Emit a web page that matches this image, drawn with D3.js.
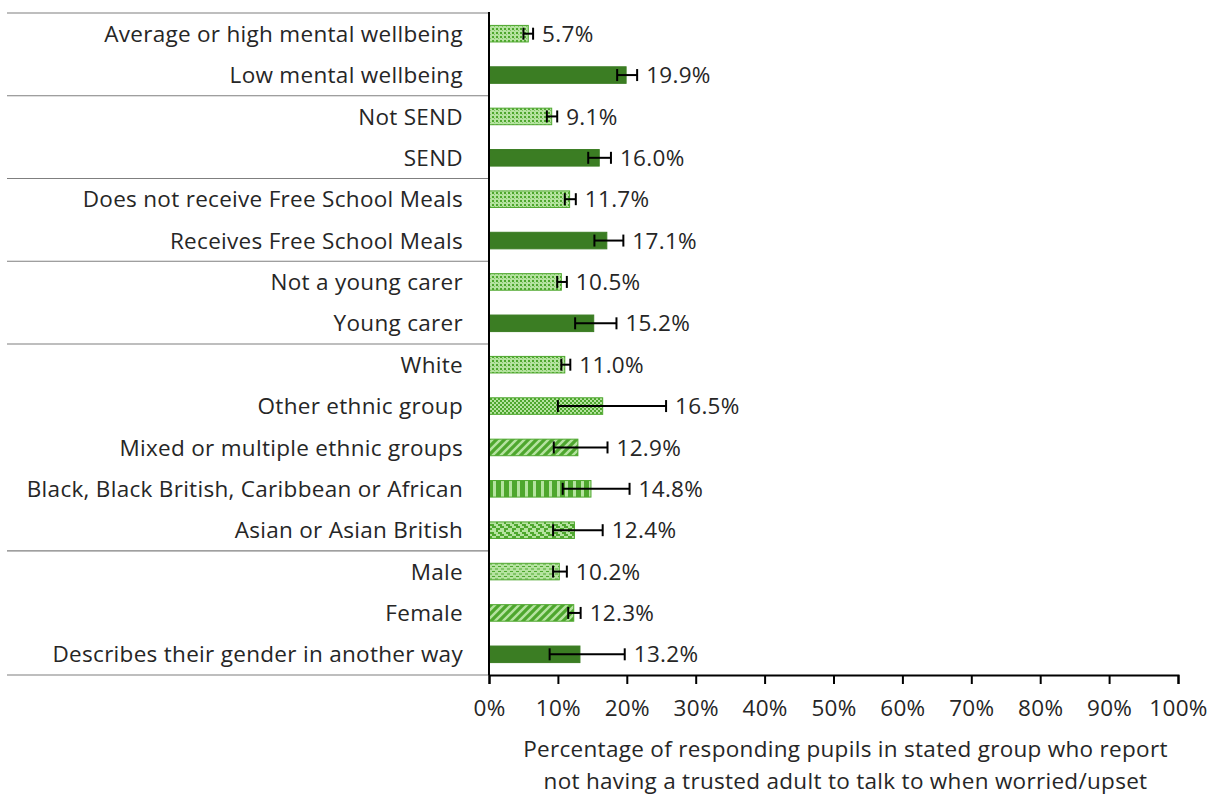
<!DOCTYPE html>
<html>
<head>
<meta charset="utf-8">
<script src="https://cdn.jsdelivr.net/npm/d3@7"></script>
<style>
  html, body { margin: 0; padding: 0; background: #ffffff; }
  svg { display: block; }
  text { font-family: "Open Sans", "Noto Sans", sans-serif; fill: #262626; letter-spacing: 0.3px; }
</style>
</head>
<body>
<svg id="chart" width="1209" height="797"></svg>
<script>
// Pupil groups, top to bottom
const categories = [
  "Average or high mental wellbeing",
  "Low mental wellbeing",
  "Not SEND",
  "SEND",
  "Does not receive Free School Meals",
  "Receives Free School Meals",
  "Not a young carer",
  "Young carer",
  "White",
  "Other ethnic group",
  "Mixed or multiple ethnic groups",
  "Black, Black British, Caribbean or African",
  "Asian or Asian British",
  "Male",
  "Female",
  "Describes their gender in another way"
];

// Percentage reporting no trusted adult
const values = [5.7, 19.9, 9.1, 16.0, 11.7, 17.1, 10.5, 15.2, 11.0, 16.5, 12.9, 14.8, 12.4, 10.2, 12.3, 13.2];

// Confidence interval bounds
const lower = [5.0, 18.6, 8.4, 14.4, 11.0, 15.3, 9.9, 12.5, 10.5, 10.0, 9.4, 10.7, 9.3, 9.3, 11.5, 8.8];
const upper = [6.4, 21.5, 9.9, 17.7, 12.6, 19.5, 11.3, 18.5, 11.8, 25.7, 17.2, 20.4, 16.5, 11.3, 13.3, 19.7];

// Fill style of each bar
const fills = ["dots", "solid", "dots", "solid", "dots", "solid", "dots", "solid",
               "dots", "diamond", "diagonal", "vertical", "weave", "dashes", "diagonal", "solid"];

// Rows after which a group separator is drawn
const groupBreaks = [2, 4, 6, 8, 13];

const xTicks = [0, 10, 20, 30, 40, 50, 60, 70, 80, 90, 100];
const xTitle = ["Percentage of responding pupils in stated group who report",
                "not having a trusted adult to talk to when worried/upset"];

const DARK = "#3b7d23";
const MID = "#4ea72e";
const LIGHT = "#b5e3a0";
const FONT_SIZE = 22.5;

const svg = d3.select("#chart");
const plotLeft = 489, plotRight = 1178, plotTop = 13, plotBottom = 675;

const x = d3.scaleLinear().domain([0, 100]).range([plotLeft, plotRight]);
const y = d3.scaleBand().domain(categories).range([plotTop, plotBottom])
  .paddingInner(0.6).paddingOuter(0.3);

// Pattern definitions
const defs = svg.append("defs");
function pat(id, w, h, draw) {
  const p = defs.append("pattern").attr("id", id)
    .attr("patternUnits", "userSpaceOnUse").attr("width", w).attr("height", h);
  p.append("rect").attr("width", w).attr("height", h).attr("fill", LIGHT);
  draw(p);
}
pat("dots", 4, 4, p => {
  p.append("rect").attr("x", 0).attr("y", 0).attr("width", 2).attr("height", 2).attr("fill", MID);
  p.append("rect").attr("x", 2).attr("y", 2).attr("width", 1).attr("height", 1).attr("fill", "#7fc461");
});
pat("diamond", 4, 4, p => {
  p.append("rect").attr("x", 0).attr("y", 0).attr("width", 2).attr("height", 2).attr("fill", MID);
  p.append("rect").attr("x", 2).attr("y", 2).attr("width", 2).attr("height", 2).attr("fill", MID);
});
pat("diagonal", 8, 8, p => {
  p.append("path").attr("d", "M-2,10 L10,-2 M-2,2 L2,-2 M6,10 L10,6")
    .attr("stroke", MID).attr("stroke-width", 3.2);
});
pat("vertical", 8, 8, p => {
  p.append("rect").attr("x", 0).attr("y", 0).attr("width", 5).attr("height", 8).attr("fill", MID);
});
pat("weave", 8, 8, p => {
  p.append("path").attr("d", "M0,0h4v2h-2v2h4v2h2v2h-4v-2h-2v-2h-2z").attr("fill", MID);
});
pat("dashes", 6, 5, p => {
  p.append("rect").attr("x", 0).attr("y", 1).attr("width", 3).attr("height", 1).attr("fill", MID);
  p.append("rect").attr("x", 3).attr("y", 3.5).attr("width", 3).attr("height", 1).attr("fill", MID);
});

const rows = categories.map((c, i) => ({
  cat: c, v: values[i], lo: lower[i], hi: upper[i], fill: fills[i]
}));

// Group separator lines across the label column
const sepY = [plotTop, ...groupBreaks.map(b => plotTop + y.step() * b), plotBottom];
svg.append("g").selectAll("line").data(sepY).join("line")
  .attr("x1", 7).attr("x2", plotLeft).attr("y1", d => d).attr("y2", d => d)
  .attr("stroke", "#7f7f7f").attr("stroke-width", 1.2);

// Bars
svg.append("g").selectAll("rect").data(rows).join("rect")
  .attr("x", x(0))
  .attr("y", d => y(d.cat))
  .attr("width", d => x(d.v) - x(0))
  .attr("height", y.bandwidth())
  .attr("fill", d => d.fill === "solid" ? DARK : `url(#${d.fill})`)
  .attr("stroke", d => d.fill === "solid" ? DARK : MID)
  .attr("stroke-width", 1);

// Error bars
const eb = svg.append("g").attr("stroke", "#000").attr("stroke-width", 2);
rows.forEach(d => {
  const cy = y(d.cat) + y.bandwidth() / 2;
  eb.append("line").attr("x1", x(d.lo)).attr("x2", x(d.hi)).attr("y1", cy).attr("y2", cy);
  eb.append("line").attr("x1", x(d.lo)).attr("x2", x(d.lo)).attr("y1", cy - 6).attr("y2", cy + 6);
  eb.append("line").attr("x1", x(d.hi)).attr("x2", x(d.hi)).attr("y1", cy - 6).attr("y2", cy + 6);
});

// Value labels
svg.append("g").selectAll("text").data(rows).join("text")
  .attr("x", d => x(d.hi) + 9)
  .attr("y", d => y(d.cat) + y.bandwidth() / 2)
  .attr("dy", "0.36em")
  .attr("font-size", FONT_SIZE)
  .text(d => d.v.toFixed(1) + "%");

// Category labels
svg.append("g").selectAll("text").data(rows).join("text")
  .attr("x", 463)
  .attr("y", d => y(d.cat) + y.bandwidth() / 2)
  .attr("dy", "0.36em")
  .attr("text-anchor", "end")
  .attr("font-size", FONT_SIZE)
  .text(d => d.cat);

// X axis
const xAxis = d3.axisBottom(x).tickValues(xTicks).tickFormat(d => d + "%")
  .tickSize(9).tickSizeOuter(9).tickPadding(16);
const ax = svg.append("g").attr("transform", `translate(0,${plotBottom})`).call(xAxis);
ax.select(".domain").attr("stroke", "#000").attr("stroke-width", 2);
ax.selectAll(".tick line").attr("stroke", "#000").attr("stroke-width", 2);
ax.selectAll(".tick text").attr("font-size", FONT_SIZE).attr("fill", "#262626")
  .attr("font-family", "\"Open Sans\", \"Noto Sans\", sans-serif");

// Y axis line
svg.append("line").attr("x1", plotLeft).attr("x2", plotLeft).attr("y1", 12).attr("y2", plotBottom)
  .attr("stroke", "#000").attr("stroke-width", 2);

// Axis title
svg.append("g").selectAll("text").data(xTitle).join("text")
  .attr("x", (plotLeft + plotRight) / 2 + 12)
  .attr("y", (d, i) => 757 + i * 32)
  .attr("text-anchor", "middle")
  .attr("font-size", FONT_SIZE)
  .text(d => d);
</script>
</body>
</html>
